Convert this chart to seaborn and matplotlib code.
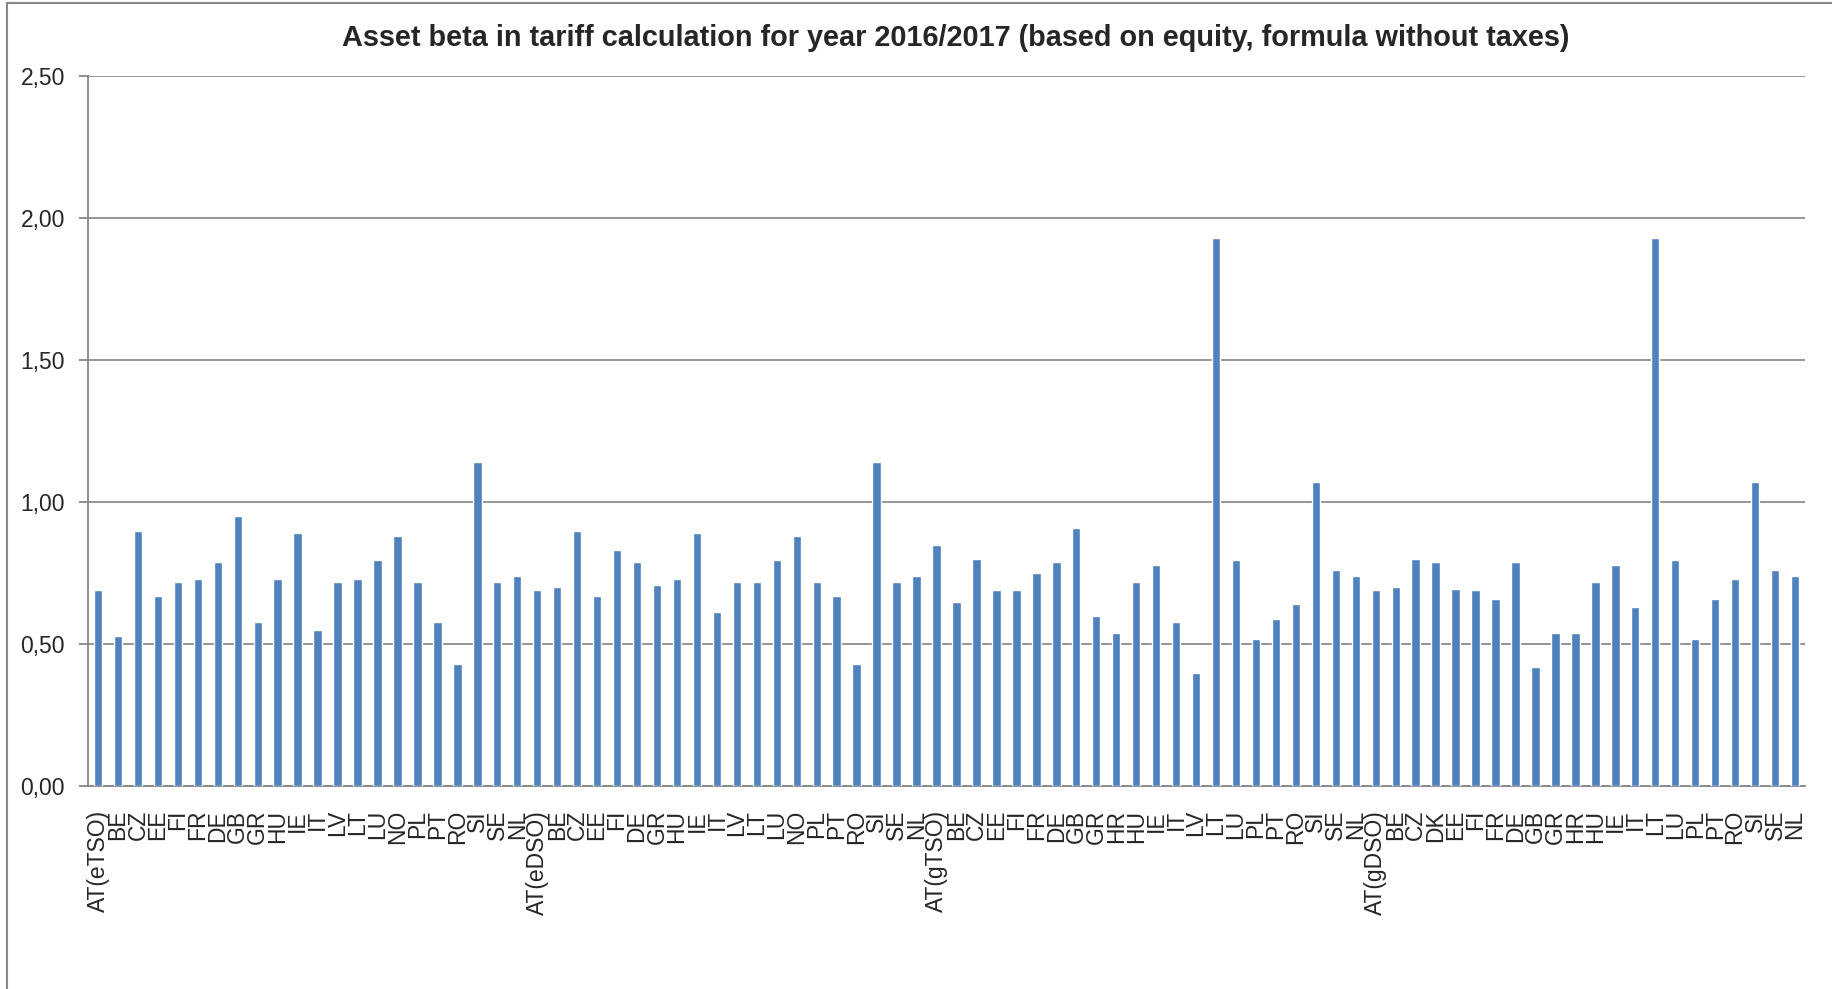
import numpy as np
import pandas as pd
import seaborn as sns
import matplotlib.pyplot as plt
from matplotlib.lines import Line2D
from matplotlib.ticker import MultipleLocator, FixedLocator, FuncFormatter

# Dados (quatro blocos: eTSO, eDSO, gTSO, gDSO)
e_tso_labels = ['AT(eTSO)', 'BE', 'CZ', 'EE', 'FI', 'FR', 'DE', 'GB', 'GR', 'HU', 'IE',
                'IT', 'LV', 'LT', 'LU', 'NO', 'PL', 'PT', 'RO', 'SI', 'SE', 'NL']
e_tso_values = [0.69, 0.53, 0.90, 0.67, 0.72, 0.73, 0.79, 0.95, 0.58, 0.73, 0.89,
                0.55, 0.72, 0.73, 0.795, 0.88, 0.72, 0.58, 0.43, 1.14, 0.72, 0.74]

e_dso_labels = ['AT(eDSO)', 'BE', 'CZ', 'EE', 'FI', 'DE', 'GR', 'HU', 'IE', 'IT',
                'LV', 'LT', 'LU', 'NO', 'PL', 'PT', 'RO', 'SI', 'SE', 'NL']
e_dso_values = [0.69, 0.70, 0.90, 0.67, 0.83, 0.79, 0.71, 0.73, 0.89, 0.615,
                0.72, 0.72, 0.795, 0.88, 0.72, 0.67, 0.43, 1.14, 0.72, 0.74]

g_tso_labels = ['AT(gTSO)', 'BE', 'CZ', 'EE', 'FI', 'FR', 'DE', 'GB', 'GR', 'HR', 'HU',
                'IE', 'IT', 'LV', 'LT', 'LU', 'PL', 'PT', 'RO', 'SI', 'SE', 'NL']
g_tso_values = [0.85, 0.65, 0.80, 0.69, 0.69, 0.75, 0.79, 0.91, 0.60, 0.54, 0.72,
                0.78, 0.58, 0.40, 1.93, 0.795, 0.52, 0.59, 0.64, 1.07, 0.76, 0.74]

g_dso_labels = ['AT(gDSO)', 'BE', 'CZ', 'DK', 'EE', 'FI', 'FR', 'DE', 'GB', 'GR', 'HR',
                'HU', 'IE', 'IT', 'LT', 'LU', 'PL', 'PT', 'RO', 'SI', 'SE', 'NL']
g_dso_values = [0.69, 0.70, 0.80, 0.79, 0.695, 0.69, 0.66, 0.79, 0.42, 0.54, 0.54,
                0.72, 0.78, 0.63, 1.93, 0.795, 0.52, 0.66, 0.73, 1.07, 0.76, 0.74]

labels = e_tso_labels + e_dso_labels + g_tso_labels + g_dso_labels
values = e_tso_values + e_dso_values + g_tso_values + g_dso_values

# posição única para cada barra (os rótulos se repetem entre blocos)
df = pd.DataFrame({'pos': np.arange(len(labels)), 'label': labels, 'beta': values})

sns.set_style('white')
plt.rcParams['font.family'] = ['Liberation Sans', 'DejaVu Sans']

fig = plt.figure(figsize=(18.32, 9.89), dpi=100)
ax = fig.add_axes([88 / 1832, 1 - 786.3 / 989, (1805 - 88) / 1832, (786.3 - 76) / 989])

sns.barplot(data=df, x='pos', y='beta', color='#4F81BD', width=0.42,
            saturation=1, ax=ax, zorder=3)

ax.set_xlim(-0.5, len(labels) - 0.5)
ax.set_ylim(0, 2.5)
ax.yaxis.set_major_locator(MultipleLocator(0.5))
ax.yaxis.set_major_formatter(FuncFormatter(lambda v, p: f'{v:.2f}'.replace('.', ',')))
ax.grid(axis='y', color='#8c8c8c', linewidth=1.3, zorder=0)

# rótulos no centro, marcas entre categorias (estilo Excel)
ax.set_xticks(df['pos'])
ax.set_xticklabels(df['label'], rotation=90, va='top', ha='center')
ax.xaxis.set_minor_locator(FixedLocator(np.arange(-0.5, len(labels), 1.0)))
ax.tick_params(axis='x', which='major', length=0, pad=17, labelsize=16.5)
ax.tick_params(axis='x', which='minor', length=7, width=1.3, color='#868686', direction='out')
ax.tick_params(axis='y', length=6.5, width=1.3, color='#868686', direction='out',
               pad=10, labelsize=16.5, left=True)

for side in ['top', 'right']:
    ax.spines[side].set_visible(False)
for side in ['left', 'bottom']:
    ax.spines[side].set_color('#868686')
    ax.spines[side].set_linewidth(1.3)

ax.set_xlabel('')
ax.set_ylabel('')

fig.text(956 / 1832, 1 - 38.5 / 989,
         'Asset beta in tariff calculation for year 2016/2017 (based on equity, formula without taxes)',
         ha='center', va='center', fontsize=20.8, fontweight='bold')

# moldura do gráfico (só borda superior e esquerda visíveis)
fig.add_artist(Line2D([7 / 1832, 7 / 1832], [0, 1 - 3 / 989], color='#888888', linewidth=1.5))
fig.add_artist(Line2D([7 / 1832, 1], [1 - 3 / 989, 1 - 3 / 989], color='#888888', linewidth=1.5))

fig.savefig('out.png', dpi=100)
